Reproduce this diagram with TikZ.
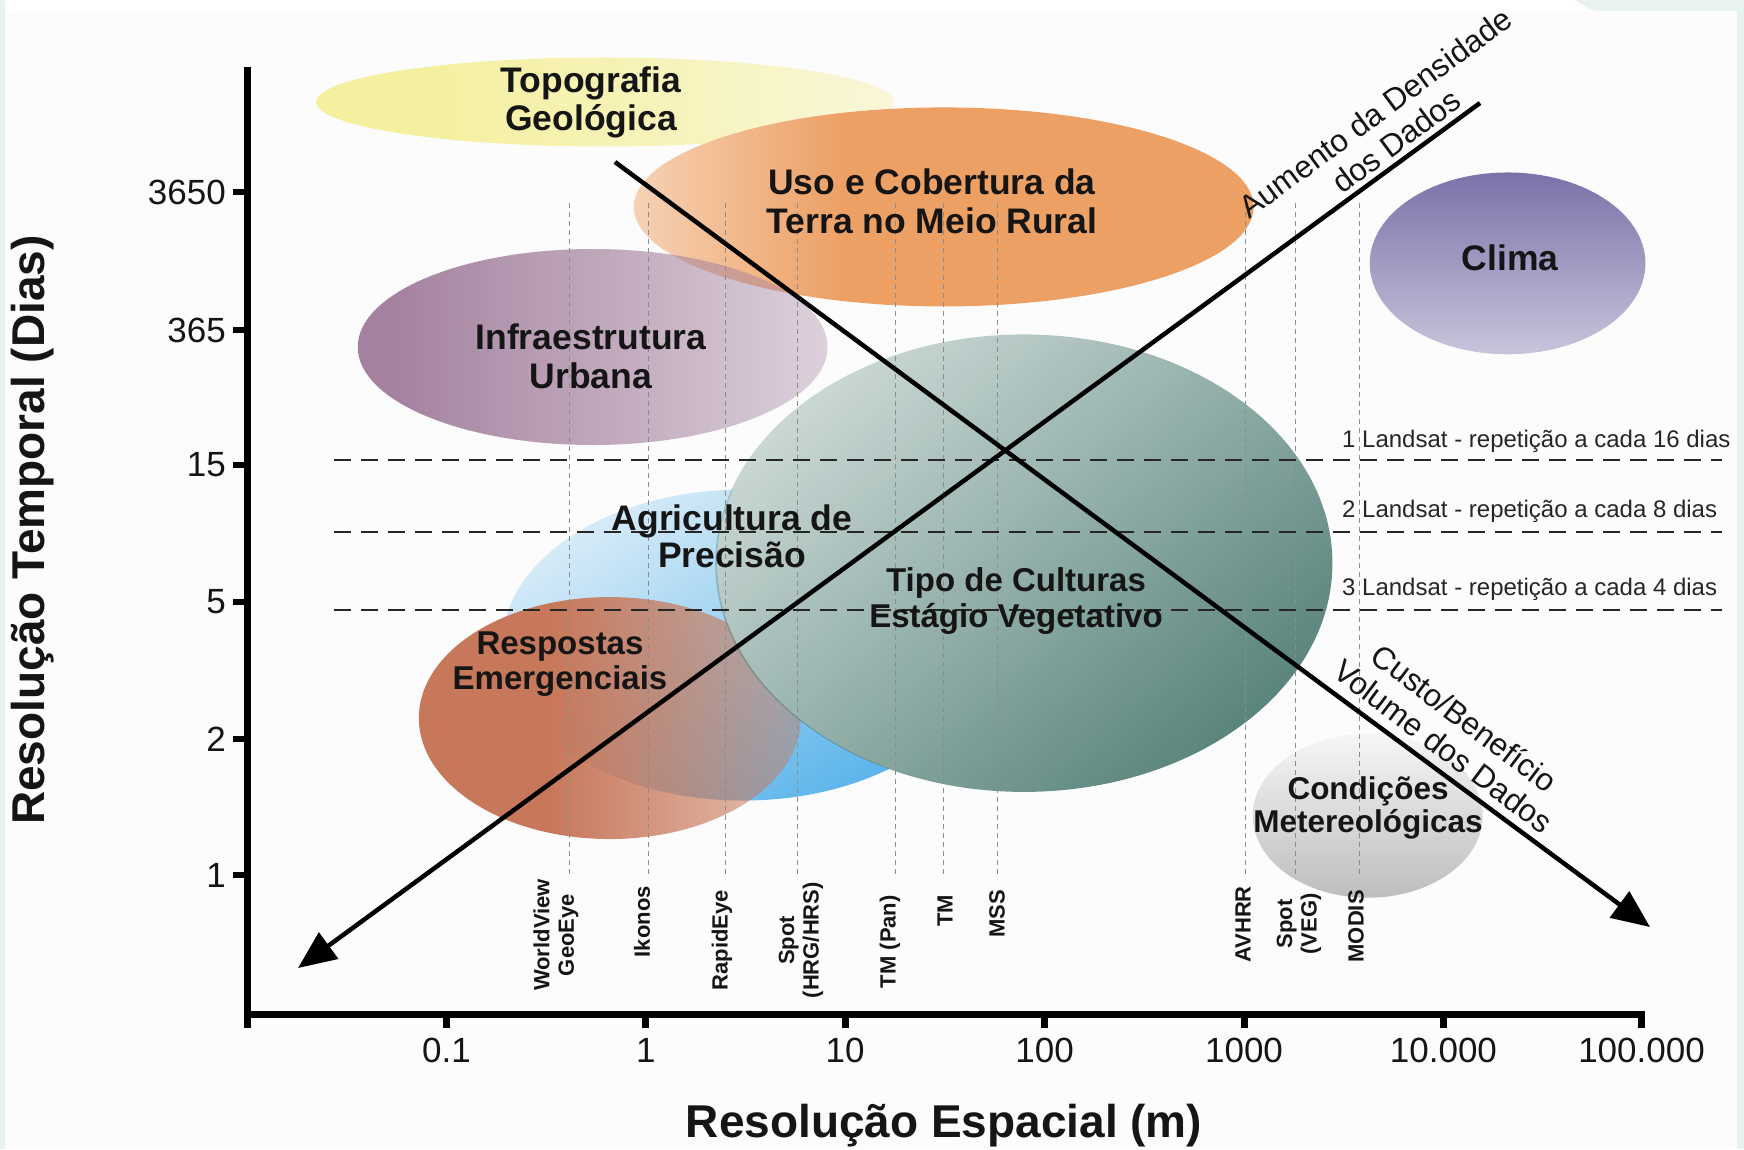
\documentclass[tikz,border=0pt]{standalone}
\usepackage{fontspec}
\setmainfont{Liberation Sans}
\usetikzlibrary{arrows.meta,fadings}

\definecolor{mint}{HTML}{E8F2EE}
\definecolor{paper}{HTML}{FCFCFC}
\definecolor{cTopo}{HTML}{F5F0A0}
\definecolor{cUso}{HTML}{EDA064}
\definecolor{cInfra}{HTML}{A4819F}
\definecolor{cClima}{HTML}{7B72AA}
\definecolor{cTipo}{HTML}{4E7C73}
\definecolor{cAgri}{HTML}{5AB4EB}
\definecolor{cResp}{HTML}{C8785A}
\definecolor{cCond}{HTML}{ADADAD}
\definecolor{ink}{HTML}{151515}
\definecolor{satgray}{HTML}{8C8C8C}

% horizontal fadings: #1 name, #2 left colour, #3 start of ramp (bp), #4 end of ramp (bp), #5 right colour
\newcommand{\mkhfade}[5]{%
\begin{tikzfadingfrompicture}[name=#1]
\path (-100bp,-100bp) rectangle (100bp,100bp);
\fill[#2] (-100bp,-100bp) rectangle (#3bp+0.5bp,100bp);
\fill[#5] (#4bp-0.5bp,-100bp) rectangle (100bp,100bp);
\shade[left color=#2,right color=#5] (#3bp,-100bp) rectangle (#4bp,100bp);
\end{tikzfadingfrompicture}}

\mkhfade{fTopo}{white}{-15}{50}{black}
\mkhfade{fUso}{black}{-40}{-8}{white}
\mkhfade{fInfra}{white}{-22}{50}{black}
\mkhfade{fResp}{white}{-8}{50}{black}
\mkhfade{fClima}{black!90}{-50}{25}{white}
\mkhfade{fCond}{black}{-30}{40}{white}
\mkhfade{fAgri}{black}{-40}{25}{white}
\mkhfade{fTipo}{black}{-48}{30}{white}

\tikzset{
  elab/.style 2 args={font=\bfseries\fontsize{#1}{#2}\selectfont, align=center, inner sep=0pt, text=ink},
  satlab/.style={font=\bfseries\fontsize{22}{24.5}\selectfont, align=center, inner sep=0pt, rotate=90, anchor=east, text=ink},
  ticklab/.style={font=\fontsize{35}{40}\selectfont, inner sep=0pt, text=ink},
  axtitle/.style={font=\bfseries\fontsize{46}{50}\selectfont, inner sep=0pt, text=ink},
  lsatlab/.style={font=\fontsize{24}{28}\selectfont, inner sep=0pt, anchor=base west, text=black!85},
  arrlab/.style={font=\fontsize{31.5}{35}\selectfont, align=center, inner sep=0pt, text=ink},
  satline/.style={satgray, line width=0.9pt, dash pattern=on 5pt off 4pt},
  lsatline/.style={black!85, line width=2pt, dash pattern=on 17pt off 10pt},
  bigarrow/.style={line width=4.5pt, -{Triangle[length=38pt,width=32pt]}},
  axisline/.style={line width=7pt},
}

\begin{document}
\begin{tikzpicture}[x=1pt,y=-1pt]
% background
\useasboundingbox (0,0) rectangle (1744,1149);
\fill[white] (0,0) rectangle (1744,1149);
\fill[mint] (0,0) rectangle (5,1149);
\fill[mint] (1737,0) rectangle (1744,1149);
\fill[mint] (1575,0) .. controls (1585,6) and (1590,11) .. (1600,11) -- (1744,11) -- (1744,0) -- cycle;
\fill[paper] (5,11) rectangle (1737,1149);

% ellipses
\fill[cTopo, path fading=fTopo] (606,102) ellipse [x radius=289pt, y radius=44.5pt];
\fill[white] (944,207) ellipse [x radius=310pt, y radius=99.5pt];
\fill[cUso, path fading=fUso] (944,207) ellipse [x radius=310pt, y radius=99.5pt];
\fill[cInfra, path fading=fInfra] (593,347) ellipse [x radius=235pt, y radius=98pt];
\fill[cClima, path fading=fClima, fading angle=90] (1507,263) ellipse [x radius=138pt, y radius=91pt];
\fill[cAgri, path fading=fAgri, fading angle=-45] (748,645) ellipse [x radius=242pt, y radius=156pt];
\fill[cResp, path fading=fResp] (610,718) ellipse [x radius=191pt, y radius=121pt];
\fill[white] (1026,563) ellipse [x radius=309pt, y radius=229pt];
\fill[cTipo, path fading=fTipo, fading angle=-40] (1026,563) ellipse [x radius=309pt, y radius=229pt];
\fill[cCond, path fading=fCond, fading angle=-90] (1368,816) ellipse [x radius=115pt, y radius=82pt];

% satellite dashed guides
\foreach \sx in {569,648,725,797,895,943,997,1245,1295,1359}
  \draw[satline] (\sx,203) -- (\sx,878);

% Landsat lines
\coordinate (l1a) at (334,460); \coordinate (l1b) at (1722,460);
\coordinate (l2a) at (334,532); \coordinate (l2b) at (1722,532);
\coordinate (l3a) at (334,610); \coordinate (l3b) at (1722,610);
\draw[lsatline] (l1a) -- (l1b);
\draw[lsatline] (l2a) -- (l2b);
\draw[lsatline] (l3a) -- (l3b);
\node[lsatlab] (ls1) at (1342,447) {1 Landsat - repetição a cada 16 dias};
\node[lsatlab] (ls2) at (1342,517) {2 Landsat - repetição a cada 8 dias};
\node[lsatlab] (ls3) at (1342,595) {3 Landsat - repetição a cada 4 dias};

% axes
\coordinate (ytop) at (247,67);
\coordinate (orig) at (247,1014);
\coordinate (xend) at (1645,1014);
\draw[axisline] (ytop) -- (orig) -- (xend);
\foreach \ty/\tl in {192/3650,330/365,465/15,602/5,739/2,875/1}{
  \draw[line width=6pt] (233,\ty) -- (247,\ty);
  \node[ticklab, anchor=east] at (226,\ty) {\tl};
}
\foreach \k/\tl in {0/,1/0.1,2/1,3/10,4/100,5/1000,6/10.000,7/100.000}{
  \pgfmathsetmacro{\tx}{min(247+199.4*\k,1641.5)}
  \draw[line width=7pt] (\tx,1014) -- (\tx,1028);
  \node[ticklab, anchor=base] at (\tx,1062) {\tl};
}
\node[axtitle, rotate=90] (ytitle) at (33,530) {Resolução Temporal (Dias)};
\node[axtitle, anchor=base] (xtitle) at (944,1137) {Resolução Espacial (m)};

% big arrows
\coordinate (a1s) at (615,162); \coordinate (a1e) at (1650,927);
\coordinate (a2s) at (1480,103); \coordinate (a2e) at (298,968);
\draw[bigarrow] (a1s) -- (a1e);
\draw[bigarrow] (a2s) -- (a2e);
\node[arrlab, rotate=36.5] (lab2) at (1386,127) {Aumento da Densidade\\dos Dados};
\node[arrlab, rotate=-37] (lab1) at (1454,732) {Custo/Benefício\\Volume dos Dados};

% ellipse labels
\node[elab={35.5}{38}] (tTopo) at (591,102) {Topografia\\Geológica};
\node[elab={35.5}{39}] (tUso) at (932,201) {Uso e Cobertura da\\Terra no Meio Rural};
\node[elab={35.5}{39}] (tInfra) at (591,356) {Infraestrutura\\Urbana};
\node[elab={35.5}{39}] (tClima) at (1510,258) {Clima};
\node[elab={35.5}{37}] (tAgri) at (732,536) {Agricultura de\\Precisão};
\node[elab={33}{35.6}] (tTipo) at (1016,601) {Tipo de Culturas\\Estágio Vegetativo};
\node[elab={33}{35.6}] (tResp) at (560,664) {Respostas\\Emergenciais};
\node[elab={31.5}{33.4}] (tCond) at (1368,808) {Condições\\Metereológicas};

% satellite labels
\node[satlab] (sWV) at (556,879) {WorldView\\GeoEye};
\node[satlab] (sIk) at (642,886) {Ikonos};
\node[satlab] (sRE) at (722,890) {RapidEye};
\node[satlab] (sSp) at (801,882) {Spot\\(HRG/HRS)};
\node[satlab] (sTMP) at (890,895) {TM (Pan)};
\node[satlab] (sTM) at (945,895) {TM};
\node[satlab] (sMSS) at (997,890) {MSS};
\node[satlab] (sAV) at (1243,886) {AVHRR};
\node[satlab] (sSV) at (1299,893) {Spot\\(VEG)};
\node[satlab] (sMO) at (1356,890) {MODIS};
\end{tikzpicture}
\end{document}
